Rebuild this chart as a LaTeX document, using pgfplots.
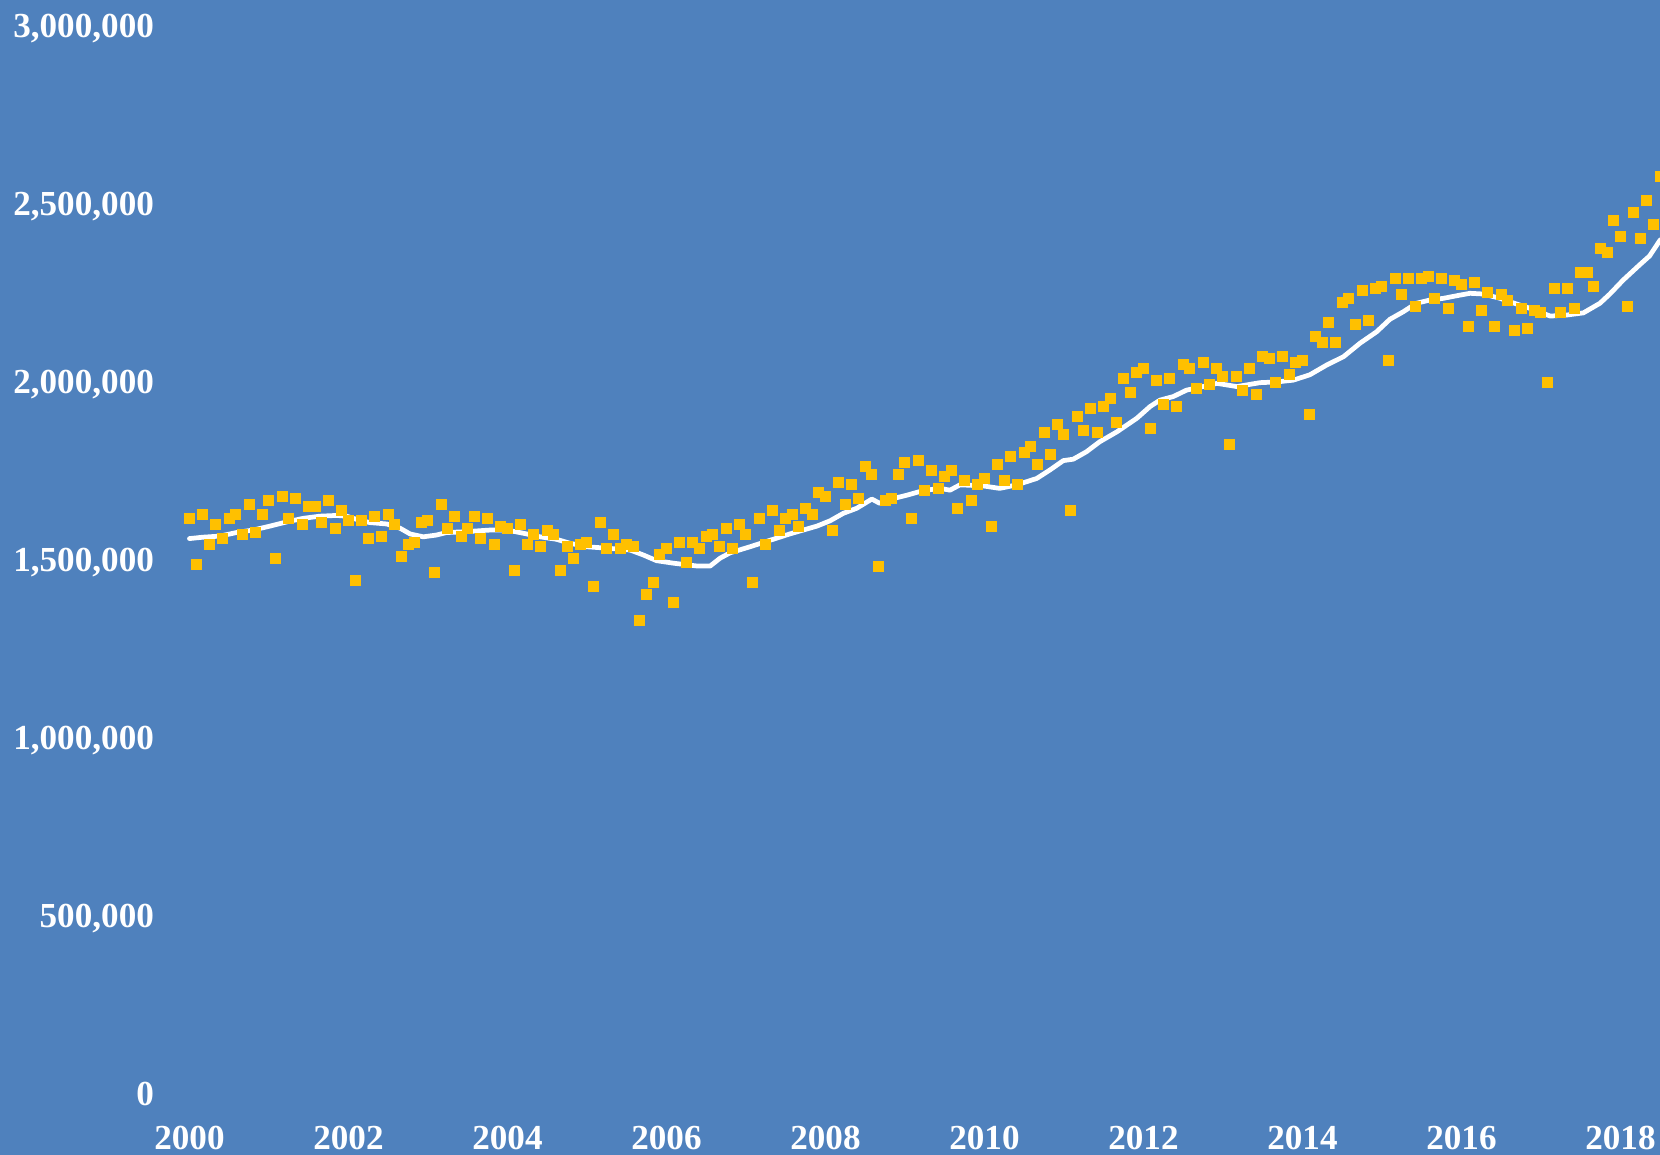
\documentclass[border=0pt]{standalone}
\usepackage{pgfplots}
\pgfplotsset{compat=1.18}
\usepackage{pgfplotstable}
\usepackage{fontspec}
\setmainfont{Liberation Serif}
\definecolor{bgblue}{HTML}{4F81BD}
\definecolor{mkorange}{HTML}{FFC000}

\pgfplotstableread{
m v
0 1615000
1 1486000
2 1627000
3 1542000
4 1599000
5 1559000
6 1615000
7 1626000
8 1571000
9 1655000
10 1577000
11 1627000
12 1667000
13 1503000
14 1678000
15 1615000
16 1671000
17 1598000
18 1649000
19 1649000
20 1604000
21 1665000
22 1587000
23 1637000
24 1609000
25 1441000
26 1609000
27 1559000
28 1620000
29 1564000
30 1626000
31 1598000
32 1508000
33 1542000
34 1547000
35 1604000
36 1609000
37 1463000
38 1654000
39 1587000
40 1620000
41 1564000
42 1587000
43 1620000
44 1559000
45 1615000
46 1542000
47 1593000
48 1587000
49 1469000
50 1598000
51 1542000
52 1570000
53 1536000
54 1581000
55 1570000
56 1469000
57 1536000
58 1503000
59 1542000
60 1547000
61 1424000
62 1604000
63 1531000
64 1570000
65 1531000
66 1542000
67 1536000
68 1328000
69 1401000
70 1435000
71 1514000
72 1531000
73 1379000
74 1547000
75 1491000
76 1547000
77 1531000
78 1564000
79 1570000
80 1536000
81 1587000
82 1531000
83 1598000
84 1570000
85 1435000
86 1615000
87 1542000
88 1637000
89 1581000
90 1615000
91 1626000
92 1593000
93 1643000
94 1626000
95 1688000
96 1677000
97 1581000
98 1716000
99 1654000
100 1710000
101 1671000
102 1761000
103 1738000
104 1480000
105 1665000
106 1671000
107 1738000
108 1772000
109 1615000
110 1778000
111 1694000
112 1750000
113 1699000
114 1733000
115 1750000
116 1643000
117 1722000
118 1665000
119 1710000
120 1727000
121 1592000
122 1767000
123 1722000
124 1789000
125 1710000
126 1800000
127 1817000
128 1767000
129 1856000
130 1795000
131 1879000
132 1851000
133 1637000
134 1901000
135 1862000
136 1924000
137 1856000
138 1930000
139 1952000
140 1885000
141 2008000
142 1969000
143 2025000
144 2036000
145 1868000
146 2003000
147 1935000
148 2008000
149 1930000
150 2047000
151 2036000
152 1980000
153 2053000
154 1991000
155 2036000
156 2014000
157 1823000
158 2014000
159 1974000
160 2036000
161 1963000
162 2070000
163 2064000
164 1997000
165 2070000
166 2019000
167 2053000
168 2059000
169 1907000
170 2126000
171 2109000
172 2165000
173 2109000
174 2222000
175 2233000
176 2160000
177 2255000
178 2171000
179 2261000
180 2267000
181 2059000
182 2289000
183 2244000
184 2289000
185 2210000
186 2289000
187 2295000
188 2233000
189 2289000
190 2205000
191 2283000
192 2272000
193 2154000
194 2278000
195 2199000
196 2250000
197 2154000
198 2244000
199 2227000
200 2143000
201 2205000
202 2149000
203 2199000
204 2194000
205 1997000
206 2261000
207 2194000
208 2261000
209 2205000
210 2306000
211 2306000
212 2267000
213 2373000
214 2362000
215 2452000
216 2407000
217 2210000
218 2474000
219 2401000
220 2508000
221 2441000
222 2576000
}\points

\pgfplotstableread{
m v
0 1559000
2.08 1563000
4.6 1566000
7.1 1576000
9.6 1583000
12.15 1594000
14.7 1606000
17.2 1616000
19.7 1622000
22.2 1624000
23.7 1622000
25.2 1613000
27.2 1604000
29.8 1600000
31.8 1588000
33.3 1572000
35.3 1564000
37.3 1569000
38.8 1576000
41.3 1578000
45.4 1583000
47.9 1583000
50.4 1574000
52.9 1564000
55.4 1557000
57.4 1546000
60.0 1536000
63.0 1532000
66.5 1527000
68.5 1513000
70.5 1497000
73.0 1490000
76.6 1482000
78.6 1482000
80.1 1504000
81.6 1519000
84.6 1536000
88.1 1557000
90.6 1572000
94.7 1594000
96.7 1609000
98.7 1630000
100.7 1644000
103.0 1670000
104.2 1658000
105.7 1669000
108.3 1681000
110.8 1694000
113.3 1700000
114.8 1695000
116.3 1710000
119.8 1707000
122.3 1700000
124.9 1710000
127.9 1728000
129.9 1752000
131.9 1778000
133.4 1782000
135.4 1803000
137.4 1831000
140.0 1859000
143.0 1897000
145.0 1930000
146.5 1948000
148.5 1958000
150.5 1976000
152.5 1984000
155.1 1995000
158.1 1986000
161.6 1997000
164.1 1999000
166.6 2004000
169.1 2019000
171.7 2047000
174.2 2070000
176.7 2108000
179.2 2140000
181.2 2175000
183.2 2196000
185.2 2220000
187.2 2229000
189.3 2234000
191.8 2243000
193.3 2248000
195.3 2246000
197.8 2234000
200.3 2218000
202.8 2203000
205.4 2184000
207.9 2187000
210.4 2193000
212.9 2220000
214.4 2246000
216.4 2285000
218.9 2328000
220.4 2353000
222.0 2398000
}\trend

\begin{document}
\begin{tikzpicture}
\path[use as bounding box] (0,0) rectangle (16.6,11.55);
\clip (0,0) rectangle (16.6,11.55);
\fill[bgblue] (0,0) rectangle (16.6,11.55);
\begin{axis}[
  at={(1.696cm,0.614cm)}, anchor=south west,
  scale only axis, width=14.906cm, height=10.68cm,
  xmin=-3, xmax=222, ymin=0, ymax=3000000,
  clip=false,
  xtick={0,24,48,72,96,120,144,168,192,216},
  xticklabels={2000,2002,2004,2006,2008,2010,2012,2014,2016,2018},
  ytick={0,500000,1000000,1500000,2000000,2500000,3000000},
  scaled y ticks=false,
  /pgf/number format/assume math mode=true,
  yticklabel style={/pgf/number format/fixed, /pgf/number format/1000 sep={,}},
  axis line style={draw=none},
  tick style={draw=none},
  major tick length=0pt,
  ticklabel style={font=\fontsize{10}{12}\selectfont\bfseries, text=white},
  yticklabel style={anchor=east, inner sep=0pt, xshift=-0.15cm, text height=0.66em, text depth=0pt, yshift=-0.2pt},
  xticklabel style={anchor=base, inner sep=0pt, yshift=-0.564cm},
]
\addplot[only marks, mark=square*, mark size=0.05cm, color=mkorange, mark options={fill=mkorange, draw=mkorange, line width=0pt}] table[x=m, y=v] {\points};
\addplot[white, line width=1.35pt, line join=round, line cap=round] table[x=m, y=v] {\trend};
\end{axis}
\end{tikzpicture}
\end{document}
